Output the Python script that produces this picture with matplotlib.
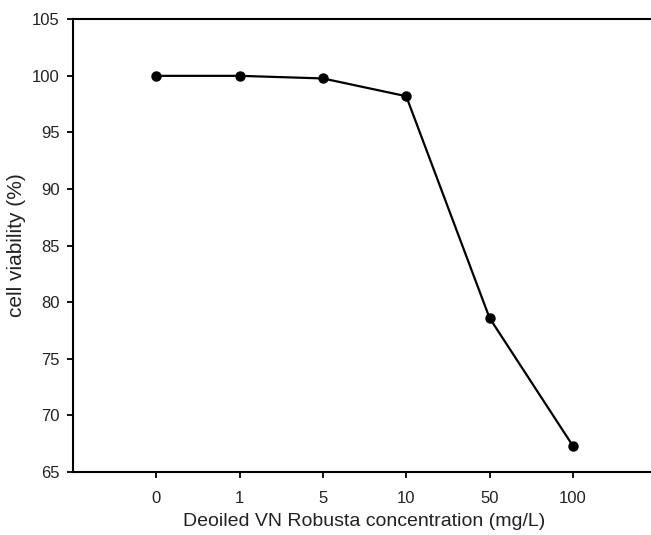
import matplotlib
matplotlib.use("Agg")
import matplotlib.pyplot as plt

plt.rcParams['font.family'] = ['Liberation Sans', 'DejaVu Sans']

concentrations = ["0", "1", "5", "10", "50", "100"]
viability = [100.0, 100.0, 99.77, 98.2, 78.6, 67.3]
y_ticks = [65, 70, 75, 80, 85, 90, 95, 100, 105]

fig = plt.figure(figsize=(6.51, 5.35), dpi=100)
ax = fig.add_axes([0.112, 0.118, 0.896, 0.846])

pos = list(range(len(concentrations)))
ax.plot(pos, viability, color='black', linewidth=1.6, marker='o', markersize=6.5)

ax.set_xlim(-1, 6)
ax.set_ylim(65, 105)
ax.set_xticks(pos)
ax.set_xticklabels(concentrations)
ax.set_yticks(y_ticks)

ax.spines['right'].set_visible(False)
for s in ['left', 'top', 'bottom']:
    ax.spines[s].set_linewidth(1.5)

ax.tick_params(direction='out', length=4.5, width=1.3, labelsize=12, colors='black', labelcolor='#222222')
ax.tick_params(axis='x', pad=9)
ax.tick_params(axis='y', pad=5)

ax.set_xlabel("Deoiled VN Robusta concentration (mg/L)", fontsize=14, color='#222222', labelpad=5)
ax.set_ylabel("cell viability (%)", fontsize=15, color='#222222', labelpad=4)

fig.savefig("out.png", dpi=100)
